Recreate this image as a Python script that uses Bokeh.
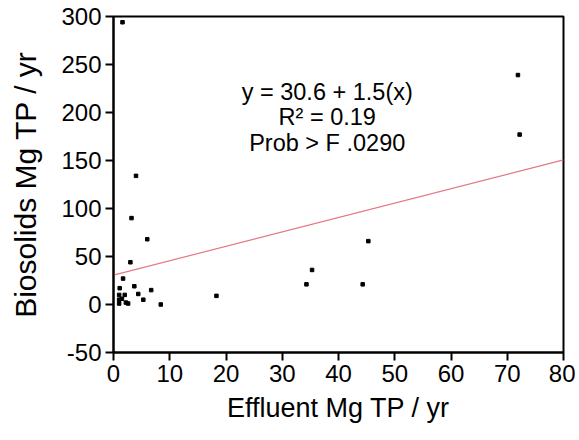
from bokeh.plotting import figure
from bokeh.embed import file_html
from bokeh.resources import INLINE
from bokeh.models import FixedTicker, Range1d, PrintfTickFormatter
from bokeh.core.properties import value

# Data
effluent = [1.6, 4.0, 3.2, 6.0, 3.0, 1.7, 1.1, 3.7, 4.4, 6.7, 5.3, 8.4, 18.3,
            1.0, 1.0, 1.0, 1.5, 2.0, 2.2, 2.6,
            71.9, 72.2, 45.3, 35.3, 34.3, 44.3]
biosolids = [294, 134, 90, 68, 44, 27, 17, 19, 11, 15, 5, 0, 9,
             10, 5, 1, 6, 10, 2, 1,
             239, 177, 66, 36, 21, 21]

intercept = 30.6
slope = 1.5
fit_x = [0, 80]
fit_y = [intercept + slope * v for v in fit_x]

x_ticks = [0, 10, 20, 30, 40, 50, 60, 70, 80]
y_ticks = [-50, 0, 50, 100, 150, 200, 250, 300]

stats_lines = ["y = 30.6 + 1.5(x)", "R\u00b2 = 0.19", "Prob > F .0290"]
stats_x = [38.0, 38.0, 38.0]
stats_y = [221, 195, 168]

FONT = "Liberation Sans"

p = figure(width=575, height=436, output_backend="svg", toolbar_location=None,
           x_range=Range1d(0, 80), y_range=Range1d(-50, 300),
           min_border_left=113, min_border_right=12, min_border_top=16,
           min_border_bottom=84)
p.xgrid.visible = False
p.ygrid.visible = False
p.outline_line_color = "black"
p.outline_line_width = 2
p.background_fill_color = "white"
p.border_fill_color = "white"

for ax in (p.xaxis[0], p.yaxis[0]):
    ax.axis_line_width = 2
    ax.axis_line_color = "black"
    ax.major_tick_line_width = 2
    ax.major_tick_line_color = "black"
    ax.major_tick_out = 8
    ax.major_tick_in = 0
    ax.minor_tick_line_color = None
    ax.major_label_text_font = FONT
    ax.major_label_text_font_size = "24px"
    ax.major_label_text_color = "black"
    ax.axis_label_text_font = FONT
    ax.axis_label_text_font_style = "normal"
    ax.axis_label_text_color = "black"
    ax.formatter = PrintfTickFormatter(format="%d")

p.xaxis.axis_label_text_font_size = "27px"
p.yaxis.axis_label_text_font_size = "30px"
p.xaxis.ticker = FixedTicker(ticks=x_ticks)
p.yaxis.ticker = FixedTicker(ticks=y_ticks)
p.xaxis.axis_label = "Effluent Mg TP / yr"
p.yaxis.axis_label = "Biosolids Mg TP / yr"
p.xaxis.major_label_standoff = 4
p.yaxis.major_label_standoff = 4
p.xaxis.axis_label_standoff = 8
p.yaxis.axis_label_standoff = 16

p.line(fit_x, fit_y, line_color="#e27882", line_width=1.2)
p.scatter(effluent, biosolids, marker="square", size=3.5, color="black")

p.text(x=stats_x, y=stats_y, text=stats_lines, text_align="center",
       text_baseline="middle", text_font=value(FONT), text_font_size="23.5px",
       text_color="black")

open("out.html", "w").write(file_html(p, INLINE))
